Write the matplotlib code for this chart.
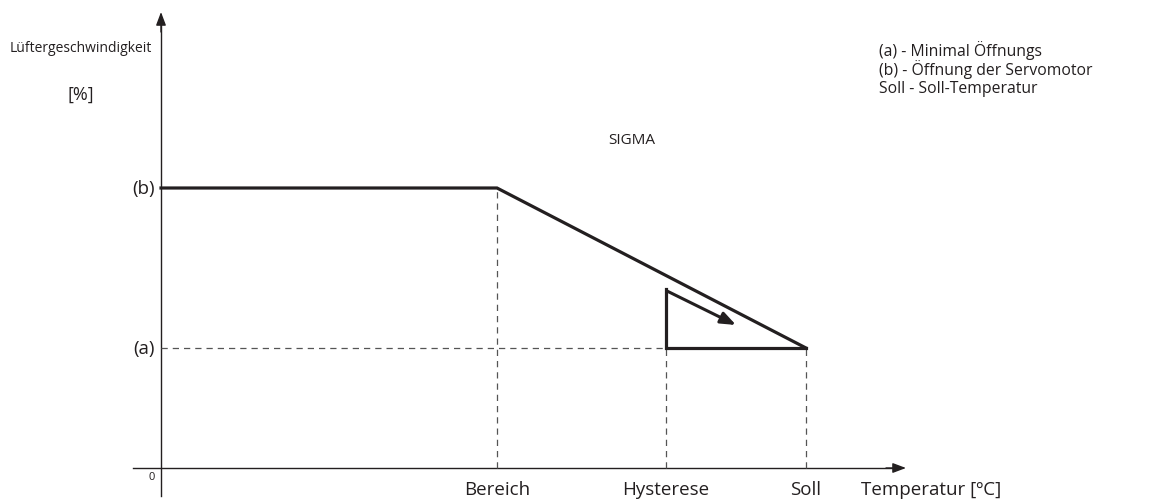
import matplotlib.pyplot as plt

plt.rcParams['font.family'] = ['Open Sans', 'DejaVu Sans']

# schematic positions (origin = axes crossing)
x_labels = ['Bereich', 'Hysterese', 'Soll']
x_marks = [336, 505, 645]          # Bereich, Hysterese, Soll
level_b = 280                      # (b) opening of servo
level_a = 120                      # (a) minimal opening
y_labels = ['(a)', '(b)']
y_marks = [level_a, level_b]
curve_x = [0, x_marks[0], x_marks[2]]
curve_y = [level_b, level_b, level_a]
hyst_top = 179
tri_x = [x_marks[2], x_marks[1], x_marks[1]]
tri_y = [level_a, level_a, hyst_top]
legend_lines = ['(a) - Minimal Öffnungs', '(b) - Öffnung der Servomotor',
                'Soll - Soll-Temperatur']

fig = plt.figure(figsize=(11.55, 5.02), dpi=100)
ax = fig.add_axes([0, 0, 1, 1])
ax.set_xlim(-161, 994)
ax.set_ylim(-33, 469)
ax.axis('off')

dark = '#231f20'
grey = '#555555'

# axes with arrows
ax.plot([-28, 735], [0, 0], color=dark, lw=1.0)
ax.plot([0, 0], [-28, 445], color=dark, lw=1.0)
ax.annotate('', xy=(745, 0), xytext=(725, 0),
            arrowprops=dict(arrowstyle='-|>,head_length=0.8,head_width=0.3',
                            color=dark, lw=1.0, shrinkA=0, shrinkB=0))
ax.annotate('', xy=(0, 456), xytext=(0, 436),
            arrowprops=dict(arrowstyle='-|>,head_length=0.8,head_width=0.3',
                            color=dark, lw=1.0, shrinkA=0, shrinkB=0))

# dashed guides
ax.plot([0, x_marks[1]], [level_a, level_a], ls=(0, (5, 4)), color=grey, lw=0.9)
ax.plot([x_marks[0], x_marks[0]], [0, level_b], ls=(0, (5, 4)), color=grey, lw=0.9)
ax.plot([x_marks[1], x_marks[1]], [0, level_a], ls=(0, (5, 4)), color=grey, lw=0.9)
ax.plot([x_marks[2], x_marks[2]], [0, level_a], ls=(0, (5, 4)), color=grey, lw=0.9)

# characteristic line and hysteresis corner
ax.plot(curve_x, curve_y, color=dark, lw=2.3, solid_joinstyle='miter')
ax.plot(tri_x, tri_y, color=dark, lw=2.3, solid_joinstyle='miter')
ax.annotate('', xy=(575, 143), xytext=(506, 177),
            arrowprops=dict(arrowstyle='-|>,head_length=0.9,head_width=0.35',
                            color=dark, lw=2.2, shrinkA=0, shrinkB=0))

# labels
for lab, y in zip(y_labels, y_marks):
    ax.text(-6, y, lab, ha='right', va='center', fontsize=13.5, color=dark)
for lab, x in zip(x_labels, x_marks):
    ax.text(x, -21, lab, ha='center', va='center', fontsize=13.5, color=dark)
ax.text(-6, -9, '0', ha='right', va='center', fontsize=8, color=dark)
ax.text(700, -21, 'Temperatur [ºC]', ha='left', va='center', fontsize=13.5, color=dark)
ax.text(-80, 421, 'Lüftergeschwindigkeit', ha='center', va='center',
        fontsize=10, color=dark)
ax.text(-80, 374, '[%]', ha='center', va='center', fontsize=13, color=dark)
ax.text(471, 329, 'SIGMA', ha='center', va='center', fontsize=11, color=dark)
for i, t in enumerate(legend_lines):
    ax.text(718, 418 - i * 19, t, ha='left', va='center', fontsize=11.3, color=dark)

fig.savefig('out.png', dpi=100)
